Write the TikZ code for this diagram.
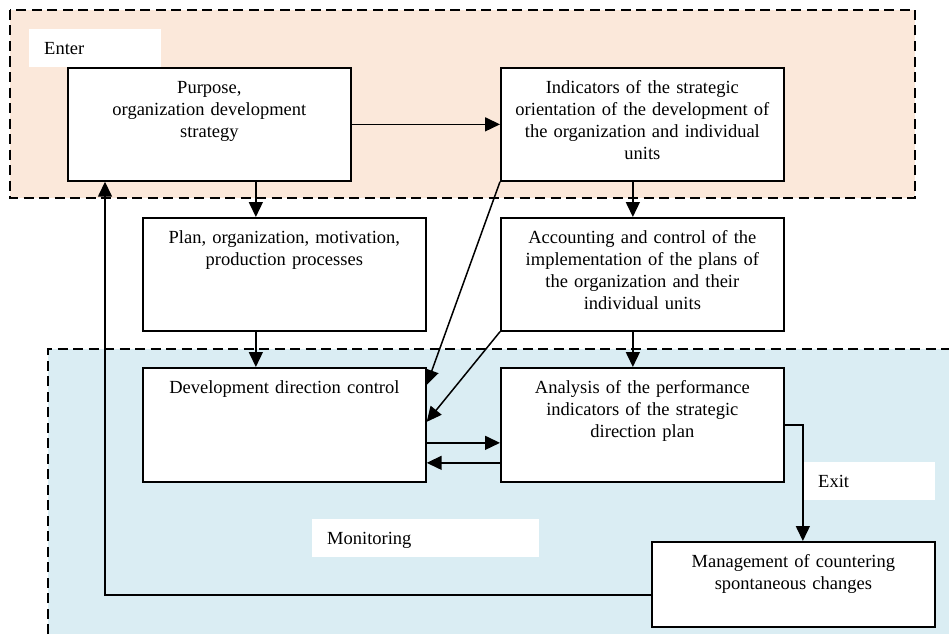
\documentclass[tikz,border=0pt]{standalone}
\usepackage{fontspec}
\setmainfont{Liberation Serif}
\usetikzlibrary{arrows.meta,calc}
\definecolor{peach}{HTML}{FBE8DA}
\definecolor{paleblue}{HTML}{DAEDF3}
\begin{document}
\begin{tikzpicture}[x=1pt,y=-1pt,
  box/.style={draw, line width=1.7pt, fill=white, minimum width=283pt, minimum height=113pt, inner sep=0pt, anchor=north west},
  txt/.style={anchor=base, font=\fontsize{18.5}{22}\selectfont, align=center, text width=280pt, inner sep=0pt, yshift=-26pt},
  conn/.style={line width=1.5pt, -{Triangle[length=15pt,width=14pt]}},
  region/.style={line width=2.4pt, dash pattern=on 10pt off 5.5pt},
  lbl/.style={fill=white, minimum height=38pt, inner xsep=15pt, inner ysep=0pt, text height=12pt, text depth=0pt, align=left, anchor=north west, font=\fontsize{18.5}{22}\selectfont}
]
\useasboundingbox (0,0) rectangle (949,634);
% regions
\fill[peach] (10,10) rectangle (915,198);
\draw[region] (10,10) rectangle (915,198);
\fill[paleblue] (48,349) rectangle (949,634);
\draw[region] (48,634) -- (48,349) -- (949,349);
% labels
\node[lbl, text width=102pt] (enter) at (29,29) {Enter};
\node[lbl, text width=197pt] (monitoring) at (312,519) {Monitoring};
\node[lbl, text width=102pt] (exit) at (803,462) {Exit};
% boxes
\node[box, label={[txt]north:{Purpose,\\organization development\\strategy}}] (purpose) at (67,67) {};
\node[box, label={[txt]north:{Indicators of the strategic\\orientation of the development of\\the organization and individual\\units}}] (ind) at (500,67) {};
\node[box, label={[txt]north:{Plan, organization, motivation,\\production processes}}] (plan) at (142,217) {};
\node[box, label={[txt]north:{Accounting and control of the\\implementation of the plans of\\the organization and their\\individual units}}] (acc) at (500,217) {};
\node[box, minimum height=114pt, label={[txt]north:{Development direction control}}] (dev) at (142,367) {};
\node[box, minimum height=114pt, label={[txt]north:{Analysis of the performance\\indicators of the strategic\\direction plan}}] (an) at (500,367) {};
\node[box, minimum height=85pt, label={[txt]north:{Management of countering\\spontaneous changes}}] (mgmt) at (651,541) {};
% connectors
\draw[conn] (purpose.east) -- (ind.west);
\draw[conn] ([xshift=46.5pt]purpose.south) -- ([xshift=46.5pt]purpose.south |- plan.north);
\draw[conn] ([xshift=-28.5pt]plan.south) -- ([xshift=-28.5pt]plan.south |- dev.north);
\draw[conn] ([xshift=-9.5pt]ind.south) -- ([xshift=-9.5pt]ind.south |- acc.north);
\draw[conn] ([xshift=-9.5pt]acc.south) -- ([xshift=-9.5pt]acc.south |- an.north);
\draw[conn] (ind.south west) -- ([yshift=40pt]dev.east);
\draw[conn] (acc.south west) -- ([yshift=3pt]dev.east);
\draw[conn] ([yshift=-18pt]dev.east) -- ([yshift=-18pt]dev.east -| an.west);
\draw[conn] ([yshift=-38pt]an.west) -- ([yshift=-38pt]an.west -| dev.east);
\draw[conn] (an.east) -| ([xshift=9.5pt]mgmt.north);
\draw[conn] ([yshift=-10.5pt]mgmt.west) -| ([xshift=38pt]purpose.south west);
\end{tikzpicture}
\end{document}
